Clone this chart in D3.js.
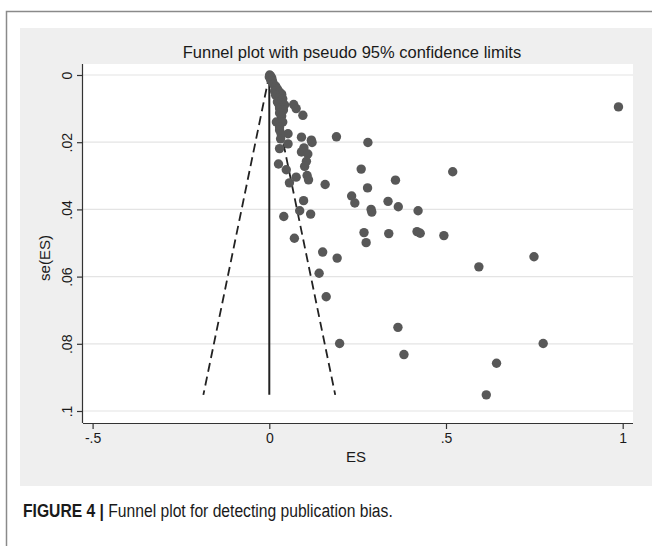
<!DOCTYPE html>
<html>
<head>
<meta charset="utf-8">
<style>
  body { margin: 0; background: #fff; }
  svg text { font-family: "Liberation Sans", Arial, sans-serif; fill: #1a1a1a; }
  .grid line { stroke: #e4e4e4; stroke-width: 1.2px; }
  .axis path, .axis line { stroke: #333; stroke-width: 1.2px; }
  .axis text { font-size: 14px; }
</style>
</head>
<body>
<svg width="652" height="546"></svg>
<script src="https://cdn.jsdelivr.net/npm/d3@7"></script>
<script>

// effect sizes and their standard errors
var es = [0.001, 0.004, 0.000, 0.007, 0.004, 0.009, 0.012, 0.018, 0.023, 0.015,
          0.029, 0.035, 0.018, 0.026, 0.038, 0.023, 0.035, 0.043, 0.029, 0.040,
          0.069, 0.076, 0.095, 0.029, 0.035, 0.020, 0.038, 0.029, 0.029, 0.034,
          0.053, 0.091, 0.119, 0.190, 0.032, 0.053, 0.029, 0.098, 0.121, 0.091,
          0.109, 0.105, 0.100, 0.026, 0.048, 0.076, 0.107, 0.111, 0.057, 0.158,
          0.097, 0.086, 0.117, 0.041, 0.279, 0.260, 0.519, 0.357, 0.278, 0.233,
          0.242, 0.336, 0.365, 0.288, 0.290, 0.421, 0.268, 0.274, 0.338, 0.418,
          0.427, 0.494, 0.071, 0.151, 0.192, 0.141, 0.161, 0.364, 0.199, 0.381,
          0.593, 0.749, 0.775, 0.643, 0.614, 0.988];
var se = [0.0000, 0.0003, 0.0006, 0.0009, 0.0015, 0.0018, 0.0027, 0.0033, 0.0042, 0.0048,
          0.0051, 0.0057, 0.0060, 0.0068, 0.0071, 0.0080, 0.0083, 0.0089, 0.0098, 0.0104,
          0.0088, 0.0100, 0.0120, 0.0113, 0.0122, 0.0140, 0.0140, 0.0155, 0.0164, 0.0176,
          0.0175, 0.0185, 0.0194, 0.0184, 0.0190, 0.0205, 0.0219, 0.0217, 0.0201, 0.0229,
          0.0235, 0.0257, 0.0272, 0.0265, 0.0282, 0.0304, 0.0299, 0.0312, 0.0321, 0.0326,
          0.0374, 0.0404, 0.0414, 0.0421, 0.0201, 0.0280, 0.0288, 0.0313, 0.0336, 0.0360,
          0.0381, 0.0376, 0.0392, 0.0400, 0.0408, 0.0404, 0.0469, 0.0499, 0.0472, 0.0466,
          0.0471, 0.0478, 0.0486, 0.0527, 0.0545, 0.0590, 0.0660, 0.0751, 0.0799, 0.0832,
          0.0571, 0.0541, 0.0799, 0.0858, 0.0952, 0.0095];

var xTicks = [-0.5, 0, 0.5, 1];
var xTickLabels = ["-.5", "0", ".5", "1"];
var yTicks = [0, 0.02, 0.04, 0.06, 0.08, 0.1];
var yTickLabels = ["0", ".02", ".04", ".06", ".08", ".1"];

var svg = d3.select('svg');

// outer frame and grey graph region
svg.append('path')
   .attr('d', 'M6.5,546V11.5H652')
   .attr('fill', 'none')
   .attr('stroke', '#8a8a8a')
   .attr('stroke-width', 1.5);
svg.append('rect')
   .attr('x', 20).attr('y', 28).attr('width', 632).attr('height', 458)
   .attr('fill', '#efefef');

// plot region
var plot = { left: 83, right: 633, top: 64, bottom: 423 };
svg.append('rect')
   .attr('x', plot.left).attr('y', plot.top)
   .attr('width', plot.right - plot.left).attr('height', plot.bottom - plot.top)
   .attr('fill', '#fff');

var x = d3.scaleLinear().domain([-0.5, 1]).range([plot.left + 9.6, plot.right - 10.3]);
var y = d3.scaleLinear().domain([0, 0.1]).range([75, 411]);

// horizontal grid
svg.append('g')
   .attr('class', 'grid')
   .selectAll('line')
   .data(yTicks)
   .enter()
   .append('line')
   .attr('x1', plot.left).attr('x2', plot.right)
   .attr('y1', function(d) { return y(d); })
   .attr('y2', function(d) { return y(d); });

// pseudo 95% confidence limits
var seMax = d3.max(se);
svg.append('line')
   .attr('x1', x(0)).attr('y1', y(0))
   .attr('x2', x(0)).attr('y2', y(seMax))
   .attr('stroke', '#222').attr('stroke-width', 2);
[-1.96, 1.96].forEach(function(z) {
    svg.append('line')
       .attr('x1', x(0)).attr('y1', y(0))
       .attr('x2', x(z * seMax)).attr('y2', y(seMax))
       .attr('stroke', '#222').attr('stroke-width', 1.8)
       .attr('stroke-dasharray', '9,5');
});

// studies
svg.append('g')
   .selectAll('circle')
   .data(es)
   .enter()
   .append('circle')
   .attr('cx', function(d) { return x(d); })
   .attr('cy', function(d, i) { return y(se[i]); })
   .attr('r', 4.7)
   .attr('fill', '#585858');

// axes
var xAxis = svg.append('g')
   .attr('class', 'axis')
   .attr('transform', 'translate(0,' + plot.bottom + ')')
   .call(d3.axisBottom(x).tickValues(xTicks).tickSize(6).tickSizeOuter(0)
          .tickFormat(function(d, i) { return xTickLabels[i]; }));
xAxis.select('.domain').attr('d', 'M' + plot.left + ',0.5H' + plot.right);
xAxis.selectAll('text').attr('y', 10);

var yAxis = svg.append('g')
   .attr('class', 'axis')
   .attr('transform', 'translate(' + plot.left + ',0)')
   .call(d3.axisLeft(y).tickValues(yTicks).tickSize(6).tickSizeOuter(0)
          .tickFormat(function(d, i) { return yTickLabels[i]; }));
yAxis.select('.domain').attr('d', 'M-0.5,' + plot.top + 'V' + plot.bottom);
yAxis.selectAll('text')
     .attr('transform', 'rotate(-90)')
     .attr('x', 0).attr('y', -16).attr('dy', '0.35em')
     .attr('text-anchor', 'middle');

// titles
svg.append('text')
   .attr('x', 352).attr('y', 58)
   .attr('text-anchor', 'middle')
   .style('font-size', '16.5px')
   .text('Funnel plot with pseudo 95% confidence limits');

svg.append('text')
   .attr('x', 356).attr('y', 462)
   .attr('text-anchor', 'middle')
   .style('font-size', '15px')
   .text('ES');

svg.append('text')
   .attr('transform', 'translate(50,258) rotate(-90)')
   .attr('text-anchor', 'middle')
   .style('font-size', '15px')
   .text('se(ES)');

// figure caption (condensed face not installed, so squeeze horizontally)
var cap = svg.append('text')
   .attr('transform', 'translate(23,517) scale(0.87,1)')
   .style('font-size', '18px');
cap.append('tspan').style('font-weight', 'bold').text('FIGURE 4 | ');
cap.append('tspan').text('Funnel plot for detecting publication bias.');

</script>
</body>
</html>
